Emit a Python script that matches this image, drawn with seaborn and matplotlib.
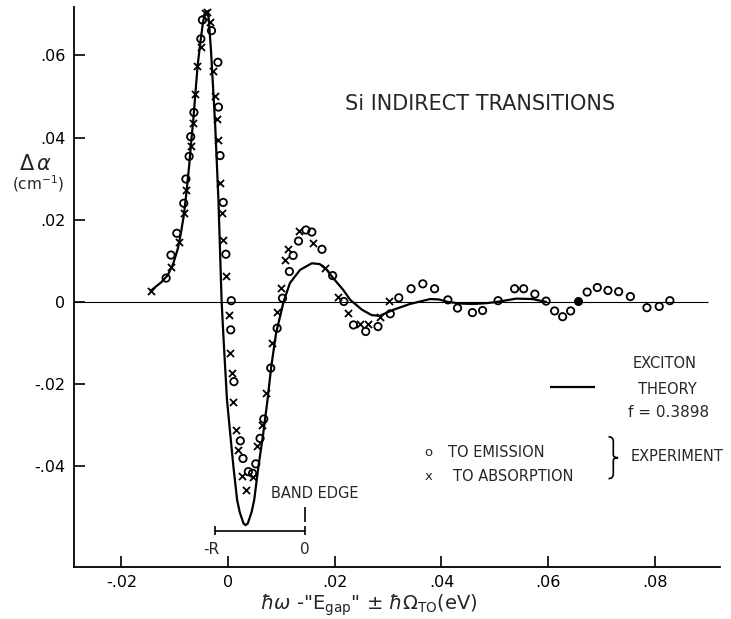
import numpy as np
import pandas as pd
import matplotlib
matplotlib.use("Agg")
import matplotlib.pyplot as plt
from matplotlib.path import Path
from matplotlib.patches import PathPatch
import seaborn as sns

# ---------------- data ----------------
theory_x = [-0.0145, -0.0125, -0.0113, -0.0103, -0.0094, -0.0088, -0.0083, -0.0078,
            -0.0073, -0.0069, -0.0065, -0.0061, -0.0057, -0.0052, -0.0047, -0.0043,
            -0.0040, -0.0037, -0.0032, -0.0024, -0.0018, -0.0012, -0.0008, -0.0002,
            0.0004, 0.0010, 0.0017, 0.0022, 0.0029, 0.0033, 0.0037, 0.0044, 0.0049,
            0.0057, 0.0066, 0.0074, 0.0081, 0.0090, 0.0104, 0.0116, 0.0135, 0.0157,
            0.0172, 0.0185, 0.0197, 0.0216, 0.0229, 0.0251, 0.0269, 0.0284, 0.0310,
            0.0341, 0.0379, 0.0395, 0.0412, 0.0435, 0.0460, 0.0485, 0.0504, 0.0540,
            0.0570, 0.0596]
theory_y = [0.0027, 0.0048, 0.0065, 0.0092, 0.0130, 0.0170, 0.0210, 0.0265,
            0.0330, 0.0390, 0.0445, 0.0510, 0.0575, 0.0630, 0.0680, 0.0703,
            0.0706, 0.0702, 0.0613, 0.0427, 0.0248, 0.0000, -0.0100, -0.0238,
            -0.0320, -0.0400, -0.0482, -0.0512, -0.0539, -0.0543, -0.0539, -0.0512, -0.0482,
            -0.0400, -0.0320, -0.0238, -0.0157, -0.0076, 0.0000, 0.0046, 0.0078, 0.0094,
            0.0092, 0.0078, 0.0058, 0.0029, 0.0005, -0.0019, -0.0032, -0.0034, -0.0019,
            -0.0005, 0.0007, 0.0006, 0.0000, -0.0004, -0.0005, -0.0003, 0.0000, 0.0008,
            0.0007, 0.0000]

emission_x = [-0.0116, -0.0107, -0.0096, -0.0083, -0.0079, -0.0073, -0.0070, -0.0064,
              -0.0051, -0.0048, -0.0031, -0.0019, -0.0018, -0.0015, -0.0009, -0.0004,
              0.0006, 0.0005, 0.0011, 0.0023, 0.0028, 0.0038, 0.0046, 0.0052, 0.0060,
              0.0067, 0.0080, 0.0092, 0.0102, 0.0115, 0.0122, 0.0132, 0.0146, 0.0157,
              0.0176, 0.0196, 0.0217, 0.0235, 0.0258, 0.0281, 0.0304, 0.0320, 0.0343,
              0.0365, 0.0387, 0.0412, 0.0430, 0.0458, 0.0477, 0.0506, 0.0537, 0.0554,
              0.0575, 0.0596, 0.0612, 0.0627, 0.0642, 0.0673, 0.0692, 0.0712, 0.0732,
              0.0754, 0.0785, 0.0808, 0.0828]
emission_y = [0.0058, 0.0114, 0.0167, 0.0240, 0.0299, 0.0354, 0.0402, 0.0461,
              0.0640, 0.0686, 0.0660, 0.0583, 0.0474, 0.0356, 0.0242, 0.0116,
              0.0003, -0.0068, -0.0194, -0.0338, -0.0381, -0.0413, -0.0417, -0.0394, -0.0332,
              -0.0285, -0.0161, -0.0064, 0.0009, 0.0074, 0.0113, 0.0148, 0.0175, 0.0170,
              0.0128, 0.0064, 0.0001, -0.0056, -0.0072, -0.0060, -0.0029, 0.0010, 0.0032,
              0.0044, 0.0032, 0.0005, -0.0015, -0.0026, -0.0021, 0.0003, 0.0032, 0.0032,
              0.0019, 0.0002, -0.0022, -0.0036, -0.0022, 0.0024, 0.0035, 0.0028, 0.0025,
              0.0013, -0.0014, -0.0011, 0.0003]

filled_x = [0.0655]
filled_y = [0.0001]

absorption_x = [-0.0145, -0.0106, -0.0091, -0.0083, -0.0078, -0.0070, -0.0065, -0.0062,
                -0.0058, -0.0051, -0.0043, -0.0040, -0.0034, -0.0029, -0.0024, -0.0020,
                -0.0019, -0.0015, -0.0012, -0.0010, -0.0004, 0.0002, 0.0004, 0.0008,
                0.0010, 0.0015, 0.0019, 0.0026, 0.0034, 0.0046, 0.0055, 0.0063, 0.0071,
                0.0082, 0.0091, 0.0099, 0.0107, 0.0113, 0.0133, 0.0160, 0.0182, 0.0206,
                0.0224, 0.0247, 0.0263, 0.0285, 0.0302]
absorption_y = [0.0027, 0.0086, 0.0145, 0.0216, 0.0272, 0.0380, 0.0435, 0.0506,
                0.0573, 0.0621, 0.0704, 0.0706, 0.0682, 0.0562, 0.0500, 0.0444,
                0.0394, 0.0289, 0.0216, 0.0151, 0.0063, -0.0032, -0.0125, -0.0172,
                -0.0243, -0.0311, -0.0360, -0.0423, -0.0457, -0.0425, -0.0350, -0.0299, -0.0222,
                -0.0099, -0.0024, 0.0033, 0.0102, 0.0128, 0.0173, 0.0144, 0.0082, 0.0013,
                -0.0028, -0.0054, -0.0054, -0.0036, 0.0001]

x_ticks = [-0.02, 0.0, 0.02, 0.04, 0.06, 0.08]
x_ticklabels = ["-.02", "0", ".02", ".04", ".06", ".08"]
y_ticks = [-0.04, -0.02, 0.0, 0.02, 0.04, 0.06]
y_ticklabels = ["-.04", "-.02", "0", ".02", ".04", ".06"]

band_edge_x = 0.0144
minus_R_x = -0.0024

# ---------------- figure ----------------
sns.set_style("ticks")
plt.rcParams['font.family'] = ['DejaVu Sans']
plt.rcParams['mathtext.fontset'] = 'dejavusans'

fig = plt.figure(figsize=(7.31, 6.19), dpi=100)
ax = fig.add_axes([0.101, 0.084, 0.884, 0.905])

xmin, xmax = -0.0289, 0.0922
ymin, ymax = -0.0645, 0.0718

# zero line
ax.hlines(0, xmin, 0.090, color="black", lw=0.8, zorder=1)

theory_df = pd.DataFrame({"x": theory_x, "y": theory_y})
sns.lineplot(data=theory_df, x="x", y="y", sort=False, estimator=None,
             color="black", lw=1.6, ax=ax, zorder=3)

sns.scatterplot(x=emission_x, y=emission_y, marker="o", s=28,
                facecolors="none", edgecolor="black", linewidth=1.3, ax=ax, zorder=4)
sns.scatterplot(x=filled_x, y=filled_y, marker="o", s=30,
                color="black", edgecolor="black", linewidth=1.0, ax=ax, zorder=4)
sns.scatterplot(x=absorption_x, y=absorption_y, marker="x", s=26,
                color="black", linewidth=1.3, ax=ax, zorder=4)

ax.set_xlim(xmin, xmax)
ax.set_ylim(ymin, ymax)
ax.set_xticks(x_ticks)
ax.set_xticklabels(x_ticklabels)
ax.set_yticks(y_ticks)
ax.set_yticklabels(y_ticklabels)
ax.tick_params(direction="in", length=8, width=1.2, labelsize=11.5, colors="black", pad=6)
for s in ["top", "right"]:
    ax.spines[s].set_visible(False)
for s in ["left", "bottom"]:
    ax.spines[s].set_linewidth(1.3)
    ax.spines[s].set_color("black")
ax.set_xlabel("")
ax.set_ylabel("")

# axis labels
fig.text(0.505, 0.022, r'$\hbar\omega$ -"E$_{\rm gap}$" $\pm$ $\hbar\Omega_{\rm TO}$(eV)',
         ha="center", va="center", fontsize=14)
fig.text(0.048, 0.735, r'$\Delta\,\alpha$', ha="center", va="center", fontsize=15)
fig.text(0.052, 0.703, r'(cm$^{-1}$)', ha="center", va="center", fontsize=11)

# annotations (data coords)
ax.text(0.0472, 0.0482, "Si INDIRECT TRANSITIONS", ha="center", va="center", fontsize=15)
ax.text(0.0162, -0.0466, "BAND EDGE", ha="center", va="center", fontsize=10.5)
ax.vlines(band_edge_x, -0.0500, -0.0536, color="black", lw=1.2)
ax.hlines(-0.0557, minus_R_x, band_edge_x, color="black", lw=1.2)
ax.vlines([minus_R_x, band_edge_x], -0.0545, -0.0568, color="black", lw=1.2)
ax.text(minus_R_x - 0.0007, -0.0603, "-R", ha="center", va="center", fontsize=11)
ax.text(band_edge_x, -0.0603, "0", ha="center", va="center", fontsize=11)

ax.hlines(-0.0207, 0.0604, 0.0688, color="black", lw=1.6)
ax.text(0.0819, -0.0151, "EXCITON", ha="center", va="center", fontsize=10.5)
ax.text(0.0823, -0.0214, "THEORY", ha="center", va="center", fontsize=10.5)
ax.text(0.0825, -0.0268, "f = 0.3898", ha="center", va="center", fontsize=11)

ax.text(0.0375, -0.0367, "o", ha="center", va="center", fontsize=9.5)
ax.text(0.0412, -0.0367, "TO EMISSION", ha="left", va="center", fontsize=10.5)
ax.text(0.0375, -0.0426, "x", ha="center", va="center", fontsize=9.5)
ax.text(0.0422, -0.0426, "TO ABSORPTION", ha="left", va="center", fontsize=10.5)

# curly brace
bx0, bw = 0.0713, 0.0018
btop, bbot = -0.0328, -0.0430
bmid = 0.5 * (btop + bbot)
bh = btop - bbot
xm = bx0 + bw * 0.5
verts = [(bx0, btop), (xm, btop), (xm, btop - bh * 0.12),
         (xm, bmid + bh * 0.07),
         (xm, bmid), (bx0 + bw, bmid),
         (xm, bmid), (xm, bmid - bh * 0.07),
         (xm, bbot + bh * 0.12),
         (xm, bbot), (bx0, bbot)]
codes = [Path.MOVETO, Path.CURVE3, Path.CURVE3, Path.LINETO,
         Path.CURVE3, Path.CURVE3, Path.CURVE3, Path.CURVE3,
         Path.LINETO, Path.CURVE3, Path.CURVE3]
ax.add_patch(PathPatch(Path(verts, codes), fill=False, lw=1.2, edgecolor="black"))
ax.text(0.0754, -0.0377, "EXPERIMENT", ha="left", va="center", fontsize=10.5)

fig.savefig("out.png", dpi=100)
